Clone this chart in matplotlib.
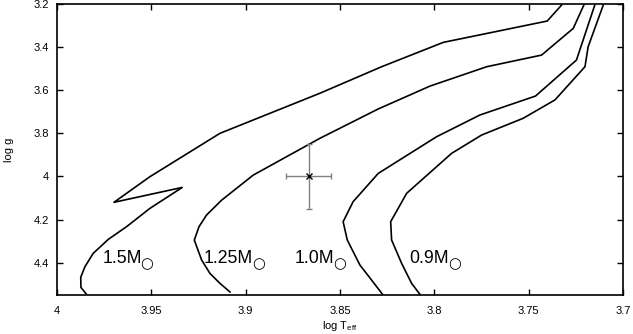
import numpy as np
import matplotlib
matplotlib.use('Agg')
import matplotlib.pyplot as plt

plt.rcParams['font.family'] = ['Liberation Sans', 'DejaVu Sans']
plt.rcParams['mathtext.fontset'] = 'custom'
plt.rcParams['mathtext.rm'] = 'Liberation Sans'

# evolutionary tracks (log Teff, log g)
teff_15 = [3.9843, 3.9873, 3.9874, 3.9852, 3.9808, 3.9728, 3.9631, 3.9507, 3.9336,
           3.9698, 3.9507, 3.9136, 3.8606, 3.8279, 3.7952, 3.7401, 3.7325]
logg_15 = [4.547, 4.515, 4.468, 4.419, 4.357, 4.292, 4.233, 4.148, 4.051,
           4.120, 4.001, 3.800, 3.614, 3.491, 3.378, 3.279, 3.205]

teff_125 = [3.9083, 3.9136, 3.9189, 3.9233, 3.9272, 3.9247, 3.9207, 3.9127, 3.8960,
            3.8606, 3.8297, 3.8023, 3.7722, 3.7431, 3.7263, 3.7207]
logg_125 = [4.536, 4.496, 4.450, 4.388, 4.295, 4.233, 4.179, 4.110, 3.994,
            3.823, 3.687, 3.581, 3.491, 3.437, 3.313, 3.205]

teff_10 = [3.8274, 3.8332, 3.8394, 3.8461, 3.8483, 3.8430, 3.8297, 3.7988, 3.7758,
           3.7463, 3.7246, 3.7149]
logg_10 = [4.547, 4.481, 4.411, 4.295, 4.210, 4.117, 3.986, 3.816, 3.715,
           3.627, 3.460, 3.205]

teff_09 = [3.8076, 3.8120, 3.8173, 3.8226, 3.8231, 3.8146, 3.7908, 3.7749, 3.7528,
           3.7360, 3.7201, 3.7184, 3.7104]
logg_09 = [4.547, 4.496, 4.403, 4.295, 4.210, 4.078, 3.893, 3.808, 3.730,
           3.645, 3.491, 3.398, 3.205]

tracks = [(teff_15, logg_15), (teff_125, logg_125), (teff_10, logg_10), (teff_09, logg_09)]

labels = ['1.5M', '1.25M', '1.0M', '0.9M']
label_x = [3.976, 3.922, 3.874, 3.813]
label_y = [4.403, 4.403, 4.403, 4.403]

# observed star
star_teff = 3.8666
star_logg = 4.0
star_teff_err = 0.012
star_logg_err = 0.15

fig = plt.figure(figsize=(6.33, 3.34), dpi=100)
ax = fig.add_axes([0.090, 0.1168, 0.894, 0.8712])

for t, g in tracks:
    ax.plot(t, g, color='black', lw=1.2)

ax.errorbar(star_teff, star_logg, xerr=star_teff_err, yerr=star_logg_err,
            fmt='x', color='black', ecolor='gray', elinewidth=1, capsize=2.2,
            markersize=4, mew=1)

for lab, x, y in zip(labels, label_x, label_y):
    t = ax.text(x, y, lab, fontsize=12.7, ha='left', va='baseline')
    # solar symbol as a subscript circle
    ax.annotate('\u25cb', xy=(1.0, 0.0), xycoords=t, xytext=(-1.0, 2.5),
                textcoords='offset points', fontsize=10.5, ha='left', va='center',
                family=['DejaVu Sans'])

ax.set_xlim(4.0, 3.7)
ax.set_ylim(4.55, 3.2)
ax.set_xticks([4, 3.95, 3.9, 3.85, 3.8, 3.75, 3.7])
ax.set_xticklabels(['4', '3.95', '3.9', '3.85', '3.8', '3.75', '3.7'])
ax.set_yticks([3.2, 3.4, 3.6, 3.8, 4.0, 4.2, 4.4])
ax.set_yticklabels(['3.2', '3.4', '3.6', '3.8', '4', '4.2', '4.4'])
ax.tick_params(direction='in', top=True, right=True, labelsize=8, length=4, width=1)
ax.tick_params(axis='x', pad=8)
ax.tick_params(axis='y', pad=6)
for s in ax.spines.values():
    s.set_linewidth(1.2)
ax.set_xlabel(r'log T$_{\rm eff}$', fontsize=8, labelpad=2)
ax.set_ylabel('log g', fontsize=8, labelpad=14)

fig.savefig('out.png', dpi=100)
